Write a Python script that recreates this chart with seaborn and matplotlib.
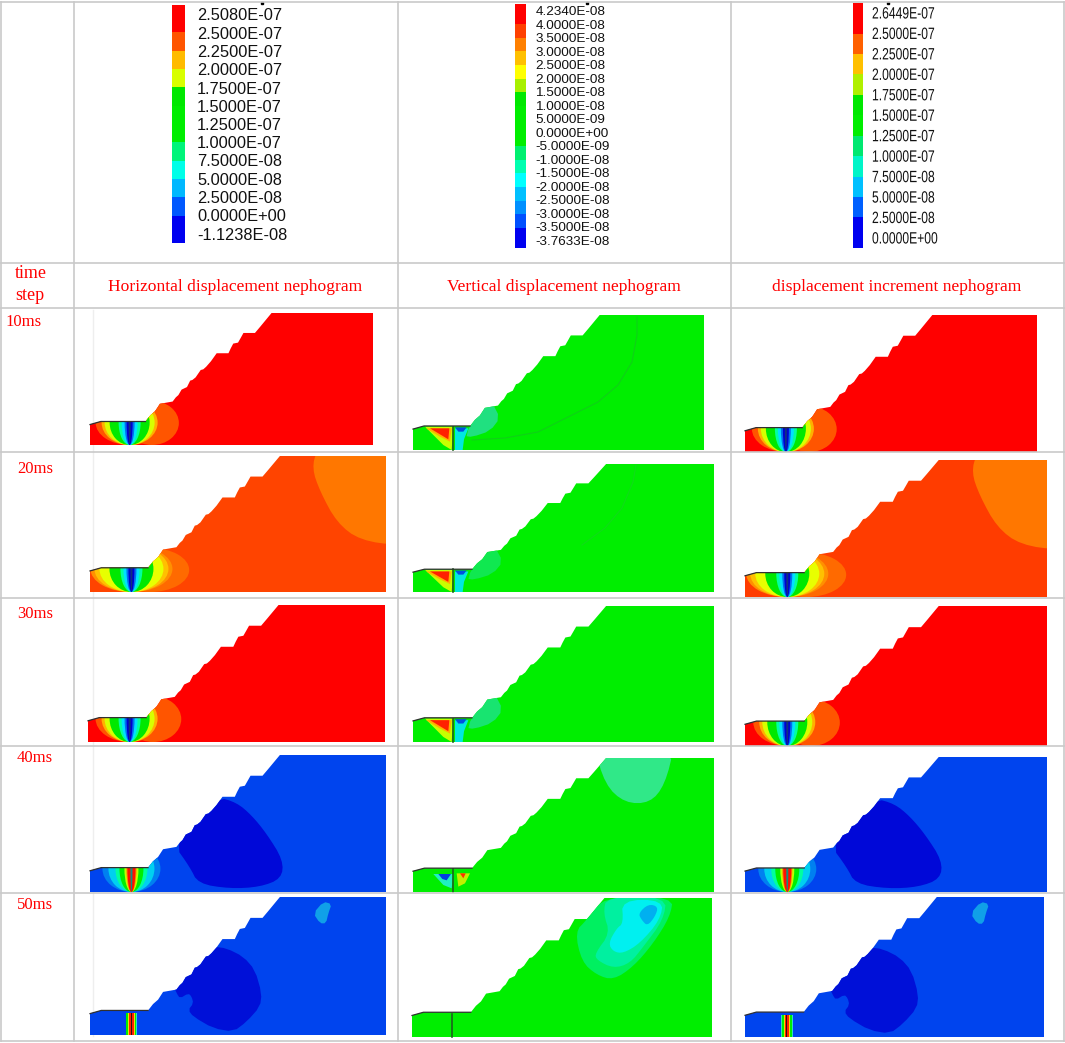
import numpy as np
import seaborn as sns
import matplotlib.pyplot as plt
from matplotlib.colors import ListedColormap
from matplotlib.patches import Polygon, Ellipse, Rectangle
from matplotlib.patheffects import AbstractPathEffect
from matplotlib.transforms import Affine2D

# legend labels and band colours
labels_h = ['2.5080E-07', '2.5000E-07', '2.2500E-07', '2.0000E-07', '1.7500E-07', '1.5000E-07', '1.2500E-07',
            '1.0000E-07', '7.5000E-08', '5.0000E-08', '2.5000E-08', '0.0000E+00', '-1.1238E-08']
labels_v = ['4.2340E-08', '4.0000E-08', '3.5000E-08', '3.0000E-08', '2.5000E-08', '2.0000E-08', '1.5000E-08',
            '1.0000E-08', '5.0000E-09', '0.0000E+00', '-5.0000E-09', '-1.0000E-08', '-1.5000E-08', '-2.0000E-08',
            '-2.5000E-08', '-3.0000E-08', '-3.5000E-08', '-3.7633E-08']
labels_d = ['2.6449E-07', '2.5000E-07', '2.2500E-07', '2.0000E-07', '1.7500E-07', '1.5000E-07', '1.2500E-07',
            '1.0000E-07', '7.5000E-08', '5.0000E-08', '2.5000E-08', '0.0000E+00']
bands_h = ['#FF0000', '#FF5500', '#FFBB00', '#D8FF00', '#00E800', '#00EE00', '#00EE00', '#00F57A',
           '#00FFE8', '#00B8FF', '#0058FF', '#0000F0']
bands_v = ['#FF0000', '#FF4000', '#FF8000', '#FFC000', '#FFFF00', '#A8F000', '#00E800', '#00EE00', '#00EE00',
           '#00EE00', '#00F070', '#00FFB0', '#00FFFF', '#00C0FF', '#0090FF', '#0050FF', '#0000F0']
bands_d = ['#FF0000', '#FF6000', '#FFC000', '#B0F000', '#00E800', '#00EE00', '#00E870', '#00F5C8',
           '#00C0FF', '#0060FF', '#0000F0']
counts_h = [3] + [2] * 10 + [3]
counts_v = [3] + [2] * 15 + [3]
counts_d = [3] + [2] * 9 + [3]

steps = ['10ms', '20ms', '30ms', '40ms', '50ms']
headers = ['Horizontal displacement nephogram', 'Vertical displacement nephogram',
           'displacement increment nephogram']

# slope outline, read in pixels off the 40ms panel
slope_x = [31, 31, 65, 205, 220, 235, 250, 290, 300, 308, 318, 335, 345, 352, 362, 378, 386, 395, 410, 428, 465,
           472, 480, 495, 503, 512, 548, 565, 600, 918, 918]
slope_y = [440, 376, 367, 367, 348, 335, 312, 305, 292, 285, 268, 260, 240, 238, 230, 207, 205, 197, 180, 155, 155,
           140, 125, 122, 108, 92, 92, 72, 30, 30, 440]

# panel boxes: left, top, right, bottom
boxes_h = [(90, 313, 373, 445), (90, 456, 386, 592), (88, 605, 385, 742), (90, 755, 386, 892), (90, 897, 386, 1035)]
boxes_v = [(413, 315, 704, 450), (413, 464, 714, 592), (413, 606, 714, 742), (413, 758, 714, 892), (412, 898, 712, 1037)]
boxes_d = [(745, 315, 1037, 452), (745, 460, 1047, 597), (745, 606, 1047, 746), (745, 757, 1047, 892), (745, 897, 1044, 1037)]

# fan bands around the blast hole: half width in px, colour
fan_early = [(34, '#FF5500'), (28, '#FFB000'), (25, '#D8FF00'), (20, '#00E800'), (11, '#00FFA0'), (8, '#00E0FF'),
             (5, '#0070F0'), (3, '#0000D0'), (1, '#103080')]
fan_mid = [(41, '#FF9000'), (37, '#FFC000'), (32, '#E8FF00'), (22, '#00E800'), (11, '#00FFA0'), (8, '#00E0FF'),
           (5, '#0070F0'), (3, '#0000D0'), (1, '#103080')]
fan_late = [(29, '#0080F0'), (23, '#00D0F0'), (16, '#00FFA0'), (12, '#00EE00'), (7, '#C0FF00'), (5, '#FF8000'),
            (4, '#FF1000'), (1, '#109080')]
strip_end = [(5.8, '#30E0C0'), (5, '#00EE00'), (3.2, '#F0E000'), (2.2, '#FF2000'), (0.6, '#301010')]

# zones inside the slope
corner_20 = [(.767, -.05), (.75, .09), (.777, .26), (.834, .49), (.912, .62), (1.05, .66), (1.05, -.05)]
blob_40_x = [280, 410, 470, 515, 560, 610, 605, 540, 450, 355, 330]
blob_40_y = [295, 155, 172, 210, 265, 345, 400, 425, 430, 415, 365]
blob_50_x = [280, 400, 440, 490, 525, 545, 540, 500, 460, 400, 340, 325, 340, 335, 325, 300, 290]
blob_50_y = [285, 170, 175, 200, 240, 310, 350, 395, 425, 415, 380, 360, 340, 320, 310, 325, 310]
speck_50_x = [700, 730, 755, 745, 738, 720]
speck_50_y = [70, 35, 42, 70, 100, 100]
pale_40 = [(.60, -.1), (.638, .2), (.704, .336), (.787, .336), (.837, .2), (.87, -.1)]
bump_10 = [(.178, .896), (.223, .719), (.271, .644), (.299, .763), (.265, .859), (.203, .904)]

pit_halo = [(75, 80), (160, 80), (155, 150), (130, 135)]
pit_orange = [(78, 85), (155, 85), (150, 125), (120, 110)]
pit_red = [(90, 85), (148, 85), (145, 118)]
pit_cyan = [(165, 85), (205, 85), (192, 118), (188, 150), (165, 150)]
pit_blue = [(165, 82), (200, 82), (190, 95), (175, 95)]
# and of the 40ms panel
late_cyan = [(85, 57), (145, 57), (140, 100), (115, 90)]
late_blue = [(100, 57), (138, 57), (125, 76), (112, 72)]
late_yellow = [(155, 55), (195, 55), (180, 85), (160, 95)]
late_red = [(165, 55), (182, 55), (175, 70)]

# 50ms vertical panel contours, zoom pixels
cont_1 = [(525, 125), (560, 90), (610, 20), (820, 20), (810, 80), (760, 160), (700, 230), (640, 270), (590, 255), (545, 215)]
cont_2 = [(585, 190), (630, 130), (610, 70), (620, 20), (800, 20), (790, 90), (730, 170), (690, 220), (640, 235), (590, 210)]
cont_3 = [(625, 160), (650, 115), (670, 100), (665, 30), (790, 30), (780, 90), (720, 160), (670, 190), (640, 185)]
cont_4 = [(715, 70), (745, 42), (775, 50), (765, 80), (742, 108), (725, 90)]

# thin contour lines on the vertical panels, image pixels
line_10_x = [637, 637, 632, 618, 598, 572, 538, 505, 472]
line_10_y = [317, 335, 362, 385, 402, 415, 432, 438, 440]
line_20_x = [636, 633, 622, 605, 582]
line_20_y = [465, 482, 508, 528, 545]

row_lines = [2, 263, 308, 452, 598, 746, 893, 1041]
col_lines = [1, 74, 398, 731, 1064]
GRID = '#C9C9C9'
SERIF = 'Liberation Serif'


class Squeeze(AbstractPathEffect):
    # narrows the glyphs of a text sideways, the third legend is condensed
    def __init__(self, sx):
        super().__init__()
        self.sx = sx

    def draw_path(self, renderer, gc, tpath, affine, rgbFace=None):
        renderer.draw_path(gc, tpath, Affine2D().scale(self.sx, 1) + affine, rgbFace)


fig = plt.figure(figsize=(10.65, 10.43), dpi=100)
ax = fig.add_axes([0, 0, 1, 1])
ax.set_xlim(0, 1065)
ax.set_ylim(1043, 0)
ax.axis('off')


def px_axes(l, t, r, b):
    return fig.add_axes([l / 1065, 1 - b / 1043, (r - l) / 1065, (b - t) / 1043])


def chaikin(xy, rounds=2):
    pts = np.array(xy, dtype=float)
    for _ in range(rounds):
        nxt = np.roll(pts, -1, axis=0)
        pts = np.column_stack([0.75 * pts + 0.25 * nxt, 0.25 * pts + 0.75 * nxt]).reshape(-1, 2)
    return pts


def draw_legend(bands, counts, labels, bar, text_x, ys, size, mark, sx=None):
    cax = px_axes(*bar)
    rows = np.repeat(np.arange(len(bands)), counts).reshape(-1, 1)
    sns.heatmap(rows, ax=cax, cmap=ListedColormap(bands), vmin=-0.5, vmax=len(bands) - 0.5, cbar=False,
                xticklabels=False, yticklabels=False)
    for lab, y in zip(labels, ys):
        t = ax.text(text_x, y, lab, fontsize=size, family='Liberation Sans', va='center', ha='left', color='#111111')
        if sx:
            t.set_path_effects([Squeeze(sx)])
    ax.plot([mark], [3], marker='s', ms=2, color='black')


draw_legend(bands_h, counts_h, labels_h, (172, 5, 185, 243), 197, np.linspace(16, 235, 13), 11.8, 262)
draw_legend(bands_v, counts_v, labels_v, (515, 4, 526, 248), 535.5, np.linspace(12, 242, 18), 9.7, 587)
draw_legend(bands_d, counts_d, labels_d, (853, 3, 863, 248), 872, np.linspace(14, 239, 12), 11.8, 888, sx=0.74)


def outline_xy(box):
    l, t, r, b = box
    xs = (np.array(slope_x) - 31) / 887 * (r - l) + l
    ys = (np.array(slope_y) - 30) / 410 * (b - t) + t
    return np.column_stack([xs, ys])


def add_clipped(art, clip):
    ax.add_patch(art)
    art.set_clip_path(clip)


def zone(box, pts, color, clip, rounds=2):
    l, t, r, b = box
    xy = chaikin([(l + fx * (r - l), t + fy * (b - t)) for fx, fy in pts], rounds)
    add_clipped(Polygon(xy, closed=True, fc=color, ec='none'), clip)


def fan(box, bands, clip):
    l, t, r, b = box
    cx = l + 0.14 * (r - l)
    top = t + 0.83 * (b - t)
    for hw, col in bands:
        add_clipped(Ellipse((cx, top), 2 * hw, 2 * (b - top), fc=col, ec='none'), clip)


def strip(box, bands, clip):
    l, t, r, b = box
    cx = l + 0.14 * (r - l)
    top = t + 0.84 * (b - t)
    for hw, col in bands:
        add_clipped(Rectangle((cx - hw, top), 2 * hw, b - top, fc=col, ec='none'), clip)


def bulb(box, fx, fy, frx, fry, color, clip):
    l, t, r, b = box
    w, h = r - l, b - t
    add_clipped(Ellipse((l + fx * w, t + fy * h), 2 * frx * w, 2 * fry * h, fc=color, ec='none'), clip)


def base_panel(box, color):
    clip = Polygon(outline_xy(box), closed=True, fc=color, ec='none')
    ax.add_patch(clip)
    return clip


def pit_top(box):
    l, t, r, b = box
    w, h = r - l, b - t
    ax.plot([l, l + .038 * w, l + .196 * w], [t + .845 * h, t + .822 * h, t + .822 * h], color='#303030', lw=0.9)


# horizontal and increment columns share the same pattern
def column_like(boxes, reds, extra):
    b10, b20, b30, b40, b50 = boxes
    for box, col in ((b10, reds[0]), (b30, reds[0])):
        clip = base_panel(box, col)
        bulb(box, .219, .833, .095, .167, '#FF5500', clip)
        fan(box, fan_early, clip)
        pit_top(box)
    clip = base_panel(b20, reds[1])
    zone(b20, corner_20, '#FF7700', clip)
    bulb(b20, .203, .838, .132, .162, '#FF6A00', clip)
    fan(b20, fan_mid, clip)
    pit_top(b20)
    clip = base_panel(b40, extra)
    blob = [((x - 31) / 887, (y - 30) / 410) for x, y in zip(blob_40_x, blob_40_y)]
    zone(b40, blob, '#0008D8', clip)
    fan(b40, fan_late, clip)
    pit_top(b40)
    clip = base_panel(b50, extra)
    blob = [((80 + x / 3 - 90) / 296, (890 + y / 3 - 897) / 138) for x, y in zip(blob_50_x, blob_50_y)]
    zone(b50, blob, '#0010D8', clip, rounds=1)
    speck = [((80 + x / 3 - 90) / 296, (890 + y / 3 - 897) / 138) for x, y in zip(speck_50_x, speck_50_y)]
    zone(b50, speck, '#10A0E8', clip, rounds=1)
    strip(b50, strip_end, clip)
    pit_top(b50)


column_like(boxes_h, ('#FF0000', '#FF4400'), '#0044EE')
column_like(boxes_d, ('#FF0000', '#FF3C00'), '#0044EE')


def pit_poly(box, pts, color, clip):
    l, b = box[0], box[3]
    xy = [(l + (x - 39) / 3, b + (y - 150) / 3 * (b - box[1]) / 135) for x, y in pts]
    add_clipped(Polygon(xy, closed=True, fc=color, ec='none'), clip)


def divide(box, color):
    l, t, r, b = box
    ax.plot([l + 40, l + 40], [b - 23, b], color=color, lw=1.2)


GREEN = '#00EE00'
bump_cols = ['#20E080', '#10E850', '#18E470']
for i, box in enumerate(boxes_v):
    clip = base_panel(box, GREEN)
    if i < 3:
        zone(box, bump_10, bump_cols[i], clip, rounds=1)
        pit_poly(box, pit_halo, '#C8FF00', clip)
        pit_poly(box, pit_orange, '#FFB000', clip)
        pit_poly(box, pit_red, '#FF2000', clip)
        pit_poly(box, pit_cyan, '#00E8E0', clip)
        pit_poly(box, pit_blue, '#0050E0', clip)
    elif i == 3:
        zone(box, pale_40, '#30E888', clip)
        for pts, col in ((late_cyan, '#20F0C0'), (late_blue, '#0040E0'), (late_yellow, '#C0F000'), (late_red, '#FF3000')):
            xy = [(405 + x / 3, 855 + y / 3) for x, y in pts]
            add_clipped(Polygon(xy, closed=True, fc=col, ec='none'), clip)
    else:
        for pts, col in ((cont_1, '#00F060'), (cont_2, '#00F0A0'), (cont_3, '#00F0F0'), (cont_4, '#00B0F0')):
            xy = chaikin([(400 + x / 3, 890 + y / 3) for x, y in pts])
            add_clipped(Polygon(xy, closed=True, fc=col, ec='none'), clip)
    divide(box, '#206020')
    pit_top(box)

ax.plot(line_10_x, line_10_y, color='#10D018', lw=0.8)
ax.plot(line_20_x, line_20_y, color='#10DC18', lw=0.8)

# faint line left of the first column panels
ax.plot([93, 93], [310, 1036], color='#EEEEEE', lw=1, zorder=0)

for y in row_lines:
    ax.plot([1, 1064], [y, y], color=GRID, lw=1.2)
for x in col_lines:
    ax.plot([x, x], [2, 1041], color=GRID, lw=1.2)

ax.text(15, 274, 'time', color='red', fontsize=13, family=SERIF, va='center')
ax.text(15, 295, 'step', color='red', fontsize=13, family=SERIF, va='center')
for lab, x, y in zip(steps, [5, 17, 17, 17, 17], [322, 469, 614, 758, 905]):
    ax.text(x, y, lab, color='red', fontsize=12, family=SERIF, va='center')
for lab, x in zip(headers, [235.5, 564, 896.5]):
    ax.text(x, 287, lab, color='red', fontsize=12.6, family=SERIF, va='center', ha='center')

fig.savefig('out.png', dpi=100)
